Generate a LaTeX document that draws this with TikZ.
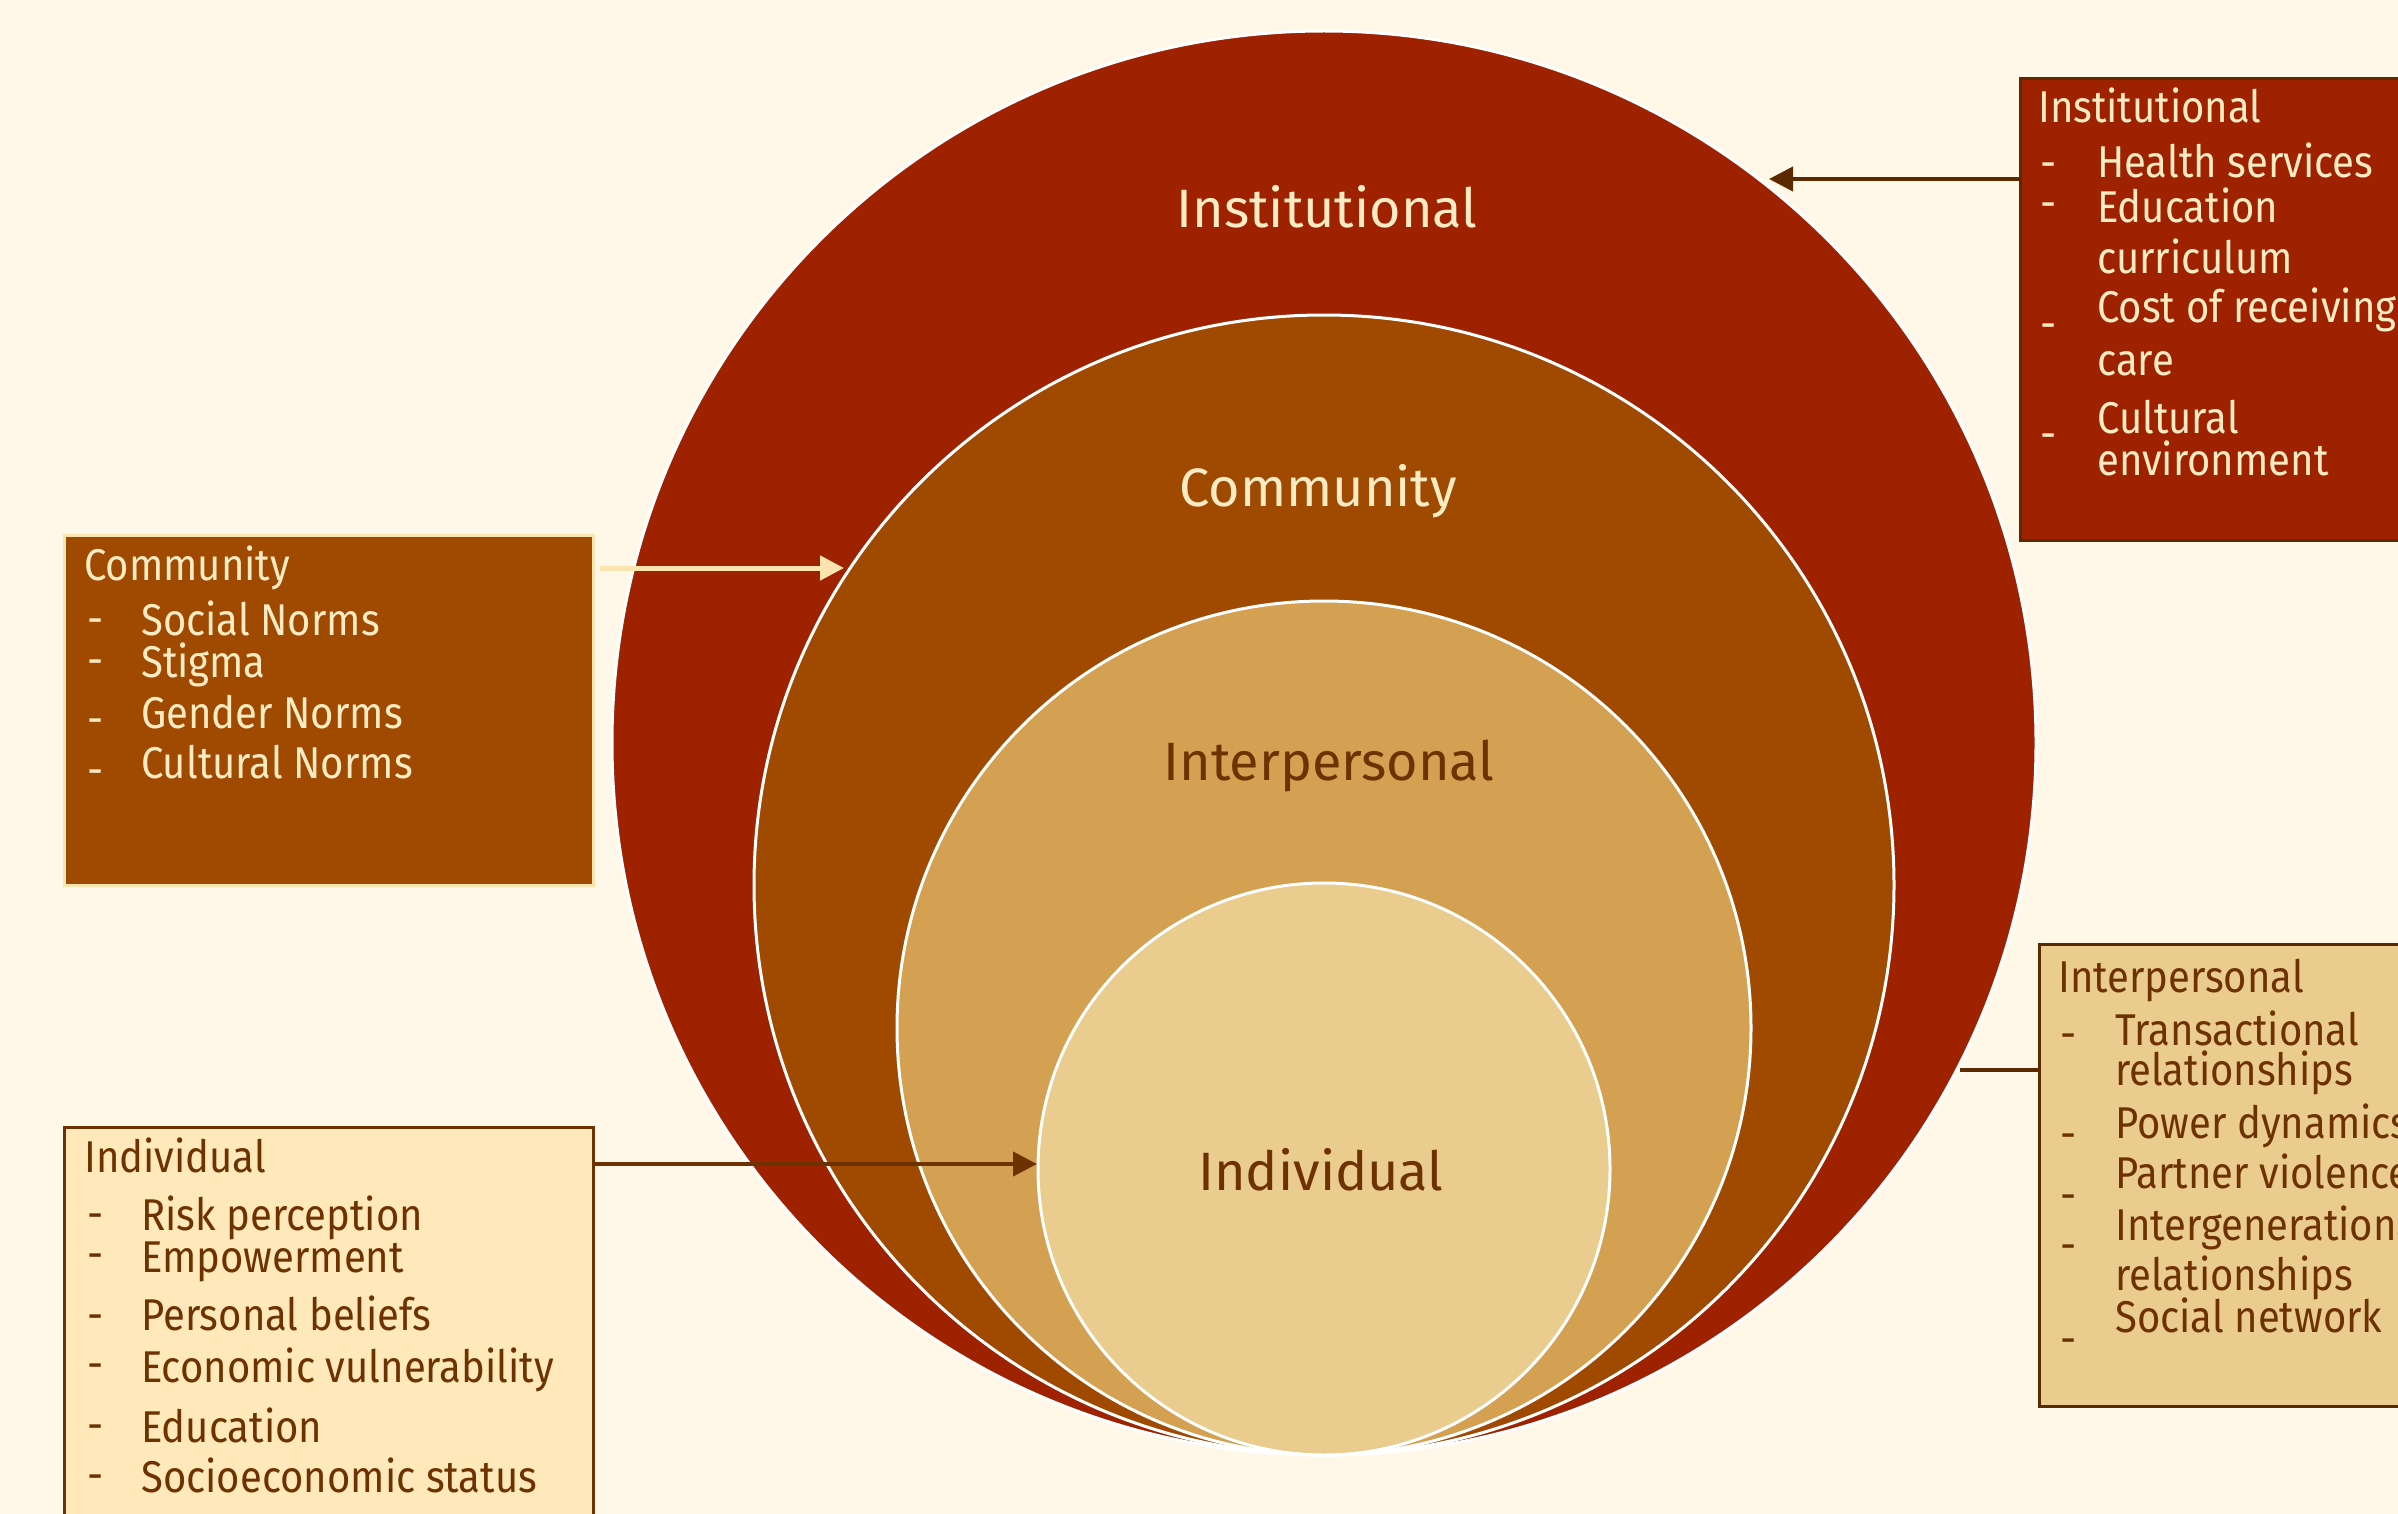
\documentclass[tikz,border=0pt]{standalone}
\usepackage{fontspec}
\setmainfont{Fira Sans}
\newfontfamily\boxfont{Fira Sans}[FakeStretch=0.9]
\usetikzlibrary{arrows.meta}
\definecolor{bgc}{HTML}{FFF7E8}
\definecolor{instred}{HTML}{9E2200}
\definecolor{commbr}{HTML}{A04900}
\definecolor{interp}{HTML}{D4A052}
\definecolor{indiv}{HTML}{EACC8F}
\definecolor{indbox}{HTML}{FFE9BA}
\definecolor{cream}{HTML}{FDEBC4}
\definecolor{dtext}{HTML}{6E3200}
\definecolor{dkb}{HTML}{5C2A00}
\definecolor{lightln}{HTML}{FCE4B0}
\tikzset{
  ring/.style={circle, draw=white, line width=3pt, inner sep=0pt},
  bigtxt/.style={font=\fontsize{54}{60}\selectfont, inner sep=0pt, anchor=base},
  boxtxt/.style={font=\boxfont\fontsize{44.5}{50}\selectfont, inner sep=0pt, anchor=base west},
  panel/.style={rectangle, line width=3pt, inner sep=0pt, anchor=north west},
  link/.style={line width=4pt},
  tipped/.style={-{Triangle[length=24pt,width=24pt]}}
}
\begin{document}
\begin{tikzpicture}[x=1pt,y=-1pt]
\useasboundingbox (0,0) rectangle (2398,1514);
\fill[bgc] (0,0) rectangle (2398,1514);

% circles
\node[ring, fill=instred, minimum size=1424pt] (c1) at (1324,743) {};
\node[ring, fill=commbr, minimum size=1140pt] (c2) at (1324,885) {};
\node[ring, fill=interp, minimum size=854pt] (c3) at (1324,1028) {};
\node[ring, fill=indiv, minimum size=572pt] (c4) at (1324,1169) {};

\node[bigtxt, text=cream] (l1) at (1327,228) {Institutional};
\node[bigtxt, text=cream] (l2) at (1318,506) {Community};
\node[bigtxt, text=dtext] (l3) at (1329,780) {Interpersonal};
\node[bigtxt, text=dtext] (l4) at (1321,1190) {Individual};

% boxes
\node[panel, fill=commbr, draw=lightln, minimum width=529pt, minimum height=350pt] (commbox) at (63,534) {};
\node[panel, fill=indbox, draw=dtext, minimum width=529pt, minimum height=420pt] (indbox) at (63,1126) {};
\node[panel, fill=instred, draw=dkb, minimum width=420pt, minimum height=462pt] (instbox) at (2019,77) {};
\node[panel, fill=indiv, draw=dkb, minimum width=420pt, minimum height=462pt] (intbox) at (2038,943) {};

% community box text
\begin{scope}[every node/.append style={boxtxt, text=cream}]
\node (cT) at (84,580) {Community};
\node (cd1) at (87,634) {-};
\node (cd2) at (87,675) {-};
\node (cd3) at (87,734) {-};
\node (cd4) at (87,785) {-};
\node (ci1) at (141,635) {Social Norms};
\node (ci2) at (141,677) {Stigma};
\node (ci3) at (141,728) {Gender Norms};
\node (ci4) at (141,778) {Cultural Norms};
\end{scope}

% individual box text
\begin{scope}[every node/.append style={boxtxt, text=dtext}]
\node (iT) at (84,1172) {Individual};
\node (id1) at (87,1229) {-};
\node (id2) at (87,1269) {-};
\node (id3) at (87,1330) {-};
\node (id4) at (87,1379) {-};
\node (id5) at (87,1440) {-};
\node (id6) at (87,1490) {-};
\node (ii1) at (141,1230) {Risk perception};
\node (ii2) at (141,1272) {Empowerment};
\node (ii3) at (141,1330) {Personal beliefs};
\node (ii4) at (141,1382) {Economic vulnerability};
\node (ii5) at (141,1442) {Education};
\node (ii6) at (141,1492) {Socioeconomic status};
\end{scope}

% institutional box text
\begin{scope}[every node/.append style={boxtxt, text=cream}]
\node (sT) at (2038,123) {Institutional};
\node (sd1) at (2040,179) {-};
\node (sd2) at (2040,219) {-};
\node (sd3) at (2040,339) {-};
\node (sd4) at (2040,449) {-};
\node (si1) at (2097,178) {Health services};
\node (si2) at (2097,223) {Education};
\node (si3) at (2097,273) {curriculum};
\node (si4) at (2097,322) {Cost of receiving};
\node (si5) at (2097,375) {care};
\node (si6) at (2097,433) {Cultural};
\node (si7) at (2097,475) {environment};
\end{scope}

% interpersonal box text
\begin{scope}[every node/.append style={boxtxt, text=dtext}]
\node (pT) at (2058,992) {Interpersonal};
\node (pd1) at (2060,1049) {-};
\node (pd2) at (2060,1149) {-};
\node (pd3) at (2060,1210) {-};
\node (pd4) at (2060,1260) {-};
\node (pd5) at (2060,1354) {-};
\node (pi1) at (2115,1045) {Transactional};
\node (pi2) at (2115,1085) {relationships};
\node (pi3) at (2115,1138) {Power dynamics};
\node (pi4) at (2115,1188) {Partner violence};
\node (pi5) at (2115,1240) {Intergenerational};
\node (pi6) at (2115,1290) {relationships};
\node (pi7) at (2115,1332) {Social network};
\end{scope}

% connectors
\coordinate (instTip) at (1769,179);
\coordinate (commTip) at (844,568);
\coordinate (indTip) at (1037,1164);
\coordinate (intEnd) at (1960,1070);
\draw[link, dkb, tipped] (instbox.west |- instTip) -- (instTip);
\draw[link, lightln, line width=5pt, tipped, shorten <=5pt] (commbox.east |- commTip) -- (commTip);
\draw[link, dtext, tipped] (indbox.east |- indTip) -- (indTip);
\draw[link, dkb] (intbox.west |- intEnd) -- (intEnd);
\end{tikzpicture}
\end{document}
